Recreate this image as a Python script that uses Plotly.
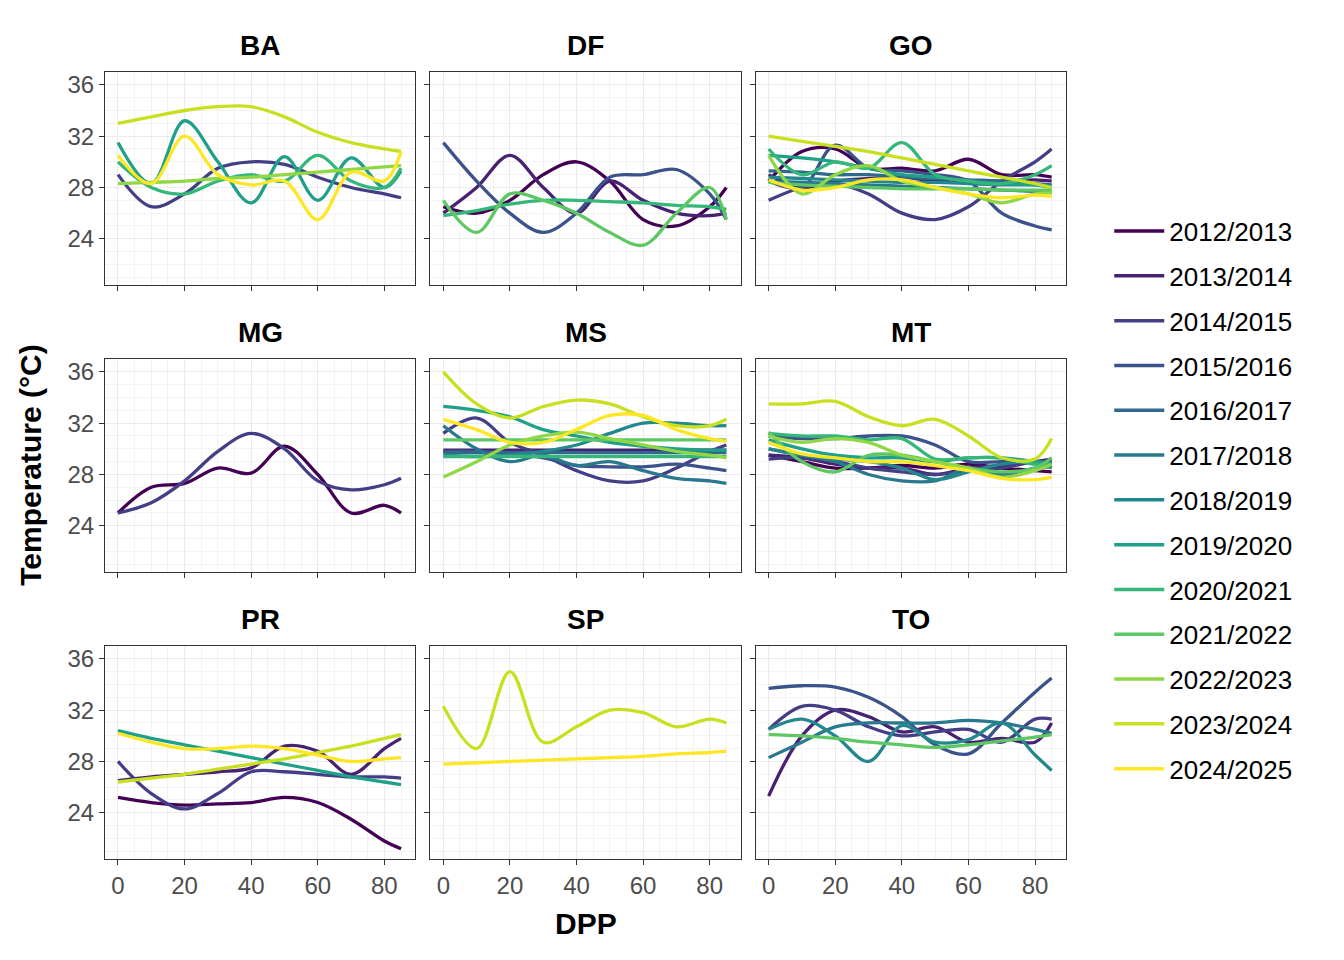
import plotly.graph_objects as go
from plotly.subplots import make_subplots

seasons = ["2012/2013", "2013/2014", "2014/2015", "2015/2016", "2016/2017", "2017/2018",
           "2018/2019", "2019/2020", "2020/2021", "2021/2022", "2022/2023", "2023/2024", "2024/2025"]
colors = ["#440154", "#482173", "#433E85", "#3B528B", "#31688E", "#2A788E", "#23888E",
          "#1FA088", "#35B779", "#5DC863", "#8FD744", "#C8E020", "#FDE725"]
states = ["BA", "DF", "GO", "MG", "MS", "MT", "PR", "SP", "TO"]
dpp = [0, 10, 20, 30, 40, 50, 60, 70, 80, 85]

BA = {
    "2014/2015": [29, 26.5, 27.5, 29.5, 30, 29.8, 28.8, 28, 27.5, 27.2],
    "2019/2020": [31.5, 28.3, 33.2, 30, 26.8, 30.4, 27, 30.3, 28, 29.3],
    "2020/2021": [30, 28, 27.5, 28.5, 29, 28.5, 30.5, 28.5, 28, 29.5],
    "2022/2023": [28.3, 28.4, 28.5, 28.7, 28.8, 29, 29.2, 29.4, 29.6, 29.7],
    "2023/2024": [33, 33.5, 34, 34.3, 34.3, 33.5, 32.3, 31.5, 31, 30.8],
    "2024/2025": [30.5, 28.3, 32, 29, 28.2, 28.5, 25.5, 29.2, 28.5, 30.8],
}
DF = {
    "2012/2013": [26.5, 26, 27, 29, 30, 28.5, 25.5, 25, 26.5, 28],
    "2013/2014": [26, 28, 30.5, 28, 26, 28.5, 27, 26, 25.8, 26],
    "2015/2016": [31.5, 28.5, 26, 24.5, 26, 28.8, 29, 29.4, 27.5, 25.5],
    "2020/2021": [25.8, 26.2, 26.7, 27, 27, 26.9, 26.8, 26.6, 26.5, 26.3],
    "2021/2022": [27, 24.5, 27.5, 27, 26, 24.5, 23.5, 26, 28, 25.5],
}
GO = {
    "2012/2013": [28.5, 30.8, 31, 29.5, 29.5, 29.3, 30.2, 29, 29, 28.8],
    "2013/2014": [29, 28, 28.5, 28.7, 28.8, 28.5, 28.5, 28.5, 28.6, 28.5],
    "2014/2015": [27, 28, 28.3, 27.5, 26, 25.5, 26.5, 28.5, 30, 31],
    "2015/2016": [28.5, 28, 31.3, 29.5, 29.3, 29, 28.5, 26, 25, 24.7],
    "2016/2017": [29.3, 29.2, 29, 29, 28.8, 28.7, 28.6, 28.5, 28.3, 28.2],
    "2017/2018": [28.5, 28.4, 28.3, 28.2, 28.1, 28, 27.9, 27.8, 27.7, 27.6],
    "2018/2019": [28.8, 28.7, 28.6, 28.5, 28.4, 28.4, 28.3, 28.2, 28.2, 28.1],
    "2019/2020": [30.5, 30.3, 30, 29.5, 29, 28.8, 28.5, 28.3, 28.2, 28],
    "2020/2021": [31, 29, 30, 29.5, 31.5, 29, 28.5, 28.3, 29, 29.7],
    "2021/2022": [28.4, 28.2, 28.1, 28, 27.9, 27.9, 27.9, 27.8, 27.8, 27.8],
    "2022/2023": [30.5, 27.5, 29, 29.7, 28.5, 28, 27.5, 26.8, 27.5, 27.6],
    "2023/2024": [32, 31.6, 31.2, 30.8, 30.3, 29.8, 29.3, 28.8, 28.3, 28],
    "2024/2025": [28.6, 27.8, 28, 28.6, 28.6, 28, 27.5, 27.2, 27.4, 27.3],
}
MG = {
    "2012/2013": [25, 27, 27.3, 28.5, 28.1, 30.2, 28, 25, 25.6, 25],
    "2014/2015": [25, 25.8, 27.5, 29.8, 31.2, 30, 27.5, 26.8, 27.2, 27.7],
}
MS = {
    "2013/2014": [29.9, 29.9, 29.9, 29.9, 29.9, 29.9, 29.9, 29.9, 29.9, 29.9],
    "2014/2015": [31.2, 32.4, 30.5, 29.5, 28.3, 27.5, 27.5, 28.5, 29.8, 30.3],
    "2015/2016": [29.8, 29.8, 29.6, 29.3, 28.7, 28.6, 28.6, 28.8, 28.5, 28.3],
    "2016/2017": [29.7, 29.7, 29.7, 29.7, 29.7, 29.7, 29.7, 29.7, 29.7, 29.7],
    "2017/2018": [31.8, 30, 29, 29.5, 28.7, 29, 28.3, 27.7, 27.5, 27.3],
    "2018/2019": [29.5, 29.4, 29.5, 29.8, 30.3, 31.2, 32, 32, 31.8, 31.8],
    "2019/2020": [33.3, 33, 32.5, 31.5, 31, 30.5, 30.2, 30, 29.9, 29.9],
    "2020/2021": [29.4, 29.4, 29.4, 29.4, 29.4, 29.4, 29.4, 29.4, 29.4, 29.4],
    "2021/2022": [30.7, 30.7, 30.7, 30.7, 30.7, 30.7, 30.7, 30.7, 30.7, 30.7],
    "2022/2023": [27.8, 29, 30.3, 31, 31.3, 30.8, 30.3, 29.8, 29.5, 29.3],
    "2023/2024": [36, 33.5, 32.4, 33.3, 33.8, 33.5, 32.5, 31.8, 31.8, 32.3],
    "2024/2025": [32.3, 31.5, 30.5, 30.5, 31.5, 32.6, 32.6, 31.5, 30.8, 30.6],
}
MT = {
    "2012/2013": [29.5, 29, 28.5, 28.5, 28.7, 28.5, 28.8, 28.5, 28.3, 28.2],
    "2013/2014": [29.5, 29.3, 28.8, 28.5, 28.5, 28, 28.5, 28.7, 29, 29.2],
    "2014/2015": [29.2, 29.3, 29, 28.5, 28.2, 28, 28.3, 28.5, 29, 29],
    "2015/2016": [31, 30.8, 30.8, 31, 31, 30.3, 29, 29, 29, 29],
    "2017/2018": [30, 29.5, 29, 28, 27.5, 27.5, 28.5, 28, 28.5, 28.6],
    "2018/2019": [30, 29.5, 29.2, 29, 28.5, 27.6, 28.2, 28.8, 29, 28.5],
    "2019/2020": [30.7, 30, 29.5, 29.3, 29.3, 29, 29.3, 29.3, 29, 28.8],
    "2020/2021": [31.2, 31, 31, 30.7, 30.8, 29.2, 29.3, 29.3, 28.8, 28.8],
    "2021/2022": [31.3, 29, 28.2, 29.5, 29.5, 29, 28.5, 28.2, 28.5, 29.3],
    "2022/2023": [31, 30.5, 30.8, 30.5, 29.5, 29, 28.5, 27.8, 28.3, 28.8],
    "2023/2024": [33.5, 33.5, 33.7, 32.5, 31.8, 32.3, 31, 29.3, 29.2, 30.8],
    "2024/2025": [30.5, 29.6, 29.3, 29, 29, 28.7, 28.3, 27.7, 27.6, 27.8],
}
PR = {
    "2012/2013": [25.2, 24.8, 24.6, 24.7, 24.8, 25.2, 24.8, 23.5, 21.8, 21.2],
    "2013/2014": [26.5, 26.8, 27, 27.2, 27.5, 29.2, 28.8, 27, 29, 29.8],
    "2014/2015": [28, 25.5, 24.3, 25.5, 27.2, 27.2, 27, 26.8, 26.8, 26.7],
    "2019/2020": [30.4, 29.8, 29.3, 28.8, 28.3, 27.8, 27.3, 26.8, 26.4, 26.2],
    "2023/2024": [26.4, 26.7, 27, 27.4, 27.8, 28.2, 28.7, 29.2, 29.8, 30.1],
    "2024/2025": [30.2, 29.5, 29, 29, 29.2, 29, 28.5, 28, 28.2, 28.3],
}
SP = {
    "2023/2024": [32.3, 29, 35, 29.5, 30.7, 32, 31.8, 30.7, 31.3, 31],
    "2024/2025": [27.8, 27.9, 28, 28.1, 28.2, 28.3, 28.4, 28.6, 28.7, 28.8],
}
TO = {
    "2013/2014": [25.3, 30, 32, 31.5, 30.3, 30.7, 29.5, 29.8, 29.5, 31],
    "2014/2015": [30.5, 32.3, 32, 30.7, 30, 30.3, 30.5, 29.5, 31.3, 31.3],
    "2015/2016": [33.7, 33.9, 33.8, 33, 31.5, 29.3, 28.6, 31, 33.4, 34.5],
    "2017/2018": [28.3, 29.5, 30.7, 31, 31, 31, 31.2, 31, 30.5, 30.2],
    "2018/2019": [30.5, 31.3, 30, 28, 30.8, 29.5, 29.7, 31, 28.5, 27.3],
    "2021/2022": [30.1, 30, 29.8, 29.5, 29.3, 29.1, 29.3, 29.6, 29.9, 30.1],
}
panels = [BA, DF, GO, MG, MS, MT, PR, SP, TO]

font = "Liberation Sans"
fig = make_subplots(rows=3, cols=3, shared_xaxes=True, shared_yaxes=True,
                    horizontal_spacing=0.0156, vertical_spacing=0.094,
                    subplot_titles=["<b>%s</b>" % s for s in states])

# legend entries
for s, c in zip(seasons, colors):
    fig.add_trace(go.Scatter(x=[None], y=[None], mode="lines", name=s, legendgroup=s,
                             line=dict(color=c, width=3.5)), row=1, col=1)

for i, data in enumerate(panels):
    r, c = i // 3 + 1, i % 3 + 1
    for s in seasons:
        if s in data:
            fig.add_trace(go.Scatter(x=dpp, y=data[s], mode="lines", name=s,
                                     line=dict(color=colors[seasons.index(s)], width=3.3, shape="spline", smoothing=1),
                                     showlegend=False, legendgroup=s), row=r, col=c)

for a in fig.layout.annotations:
    a.font = dict(family=font, size=28, color="black")
    a.yshift = 9

axis_style = dict(showline=True, mirror=True, linecolor="#333333", linewidth=1.2,
                  gridcolor="#EBEBEB", gridwidth=1.2, zeroline=False,
                  ticks="outside", tickcolor="#333333", ticklen=5,
                  tickfont=dict(family=font, size=24, color="#4D4D4D"),
                  minor=dict(showgrid=True, gridcolor="#F3F3F3", gridwidth=0.6))
fig.update_xaxes(range=[-3.9, 89.3], tickvals=[0, 20, 40, 60, 80], **axis_style)
fig.update_yaxes(range=[20.4, 37.0], tickvals=[24, 28, 32, 36], **axis_style)

fig.update_layout(
    width=1344, height=960, plot_bgcolor="white", paper_bgcolor="white",
    margin=dict(l=97, r=286, t=64, b=109),
    legend=dict(x=1.045, y=0.456, yanchor="middle", font=dict(family=font, size=26, color="black"),
                tracegroupgap=8, itemwidth=50),
    font=dict(family=font),
)
fig.add_annotation(text="<b>DPP</b>", x=0.5, y=-0.105, xref="paper", yref="paper",
                   showarrow=False, font=dict(family=font, size=30, color="black"))
fig.add_annotation(text="<b>Temperature (°C)</b>", x=-0.097, y=0.5, xref="paper", yref="paper",
                   textangle=-90, showarrow=False, font=dict(family=font, size=30, color="black"))

fig.write_html("out.html")
